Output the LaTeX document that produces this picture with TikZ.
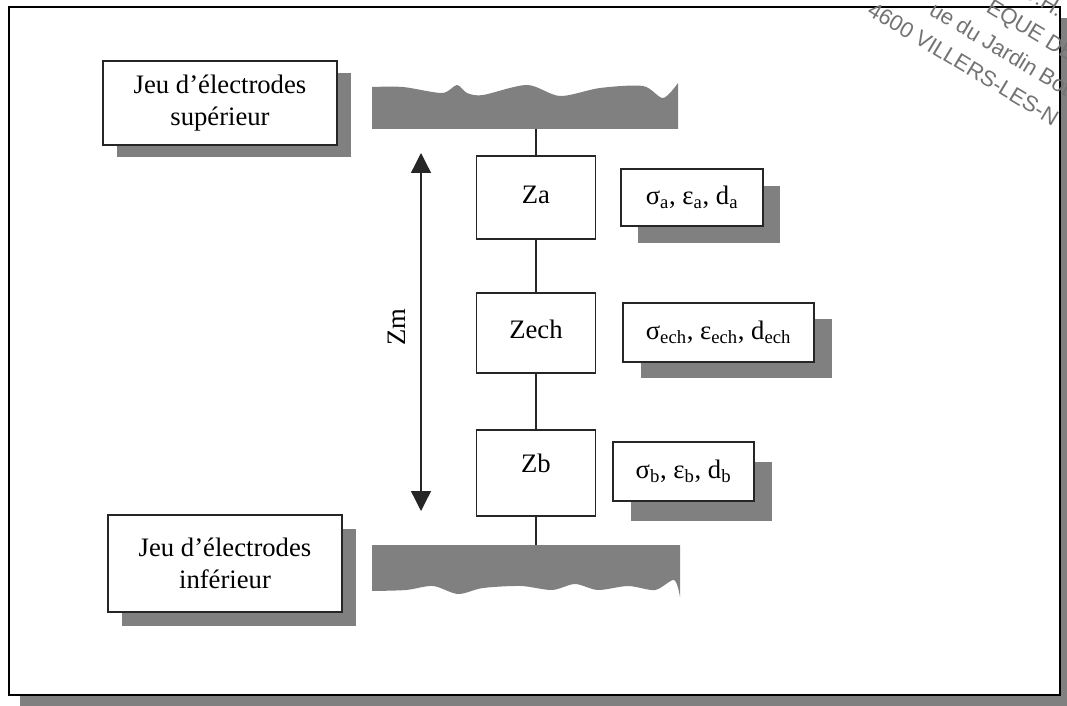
\documentclass[tikz,border=0pt]{standalone}
\usepackage{fontspec}
\setmainfont{Liberation Serif}
\newfontfamily\stampfont{Liberation Sans}
\usetikzlibrary{arrows.meta,shadows}
\begin{document}
\begin{tikzpicture}[x=0.75pt,y=-0.75pt,
  shadecol/.style={fill=black!50},
  box/.style={draw=black!85, line width=0.9pt, fill=white, align=center, inner sep=0pt,
    font=\fontsize{20}{24.5}\selectfont},
  sbox/.style 2 args={box, drop shadow={shadow xshift=#1, shadow yshift=-#2, fill=black!50, opacity=1}},
  zbox/.style={box, minimum width=89.25pt},
  link/.style={draw=black!85, line width=0.9pt},
  zmarrow/.style={draw=black!85, line width=1pt, {Triangle[width=15pt,length=15pt]}-{Triangle[width=15pt,length=15pt]}},
  stamp/.style={text=black!55, font=\stampfont\fontsize{16.5}{19}\selectfont, rotate=-31, anchor=base west, inner sep=0pt}
]
\useasboundingbox (0,0) rectangle (1067,706);
\begin{scope}
\clip (0,0) rectangle (1067,706);
% outer frame with shadow
\fill[shadecol] (20,18) rectangle (1080,720);
\draw[line width=1.6pt, fill=white] (9,7) rectangle (1060,695);

% electrode strips
\fill[shadecol] (372,129) -- plot[smooth] coordinates {(372,87) (403,87) (442,93) (457,85) (467,93) (483,95) (527,85) (560,96) (600,88) (643,86) (663,98) (678,83)} -- (678,129) -- cycle;
\fill[shadecol] (372,545) -- plot[smooth] coordinates {(372,591) (406,590) (433,586) (458,594) (483,588) (521,586) (552,590) (575,584) (598,590) (628,586) (655,590) (674,580) (680,597)} -- (680,545) -- cycle;
\coordinate (topE) at (536,129);
\coordinate (botE) at (536,545);

% electrode labels
\node[sbox={10.5pt}{9pt}, minimum width=175.5pt, minimum height=63pt] (sup) at (220,103) {Jeu d’électrodes\\supérieur};
\node[sbox={10.5pt}{10.5pt}, minimum width=175.5pt, minimum height=72.75pt] (inf) at (225,563.5) {Jeu d’électrodes\\inférieur};

% impedance boxes
\node[zbox, minimum height=62.25pt, text depth=4.5pt] (za) at (536,197.5) {Za};
\node[zbox, minimum height=60pt, text depth=6pt] (zech) at (536,333) {Zech};
\node[zbox, minimum height=64.5pt, text depth=15pt] (zb) at (536,473) {Zb};

\draw[link] (topE) -- (za.north);
\draw[link] (za.south) -- (zech.north);
\draw[link] (zech.south) -- (zb.north);
\draw[link] (zb.south) -- (botE);

% parameter boxes
\node[sbox={12.75pt}{12.75pt}, minimum width=106.5pt, minimum height=42.75pt] (pa) at (692,197.5) {σ\textsubscript{a}, ε\textsubscript{a}, d\textsubscript{a}};
\node[sbox={13.5pt}{12pt}, minimum width=143.25pt, minimum height=44.25pt] (pech) at (718.5,332.5) {σ\textsubscript{ech}, ε\textsubscript{ech}, d\textsubscript{ech}};
\node[sbox={13.5pt}{15pt}, minimum width=105.75pt, minimum height=44.25pt] (pb) at (683.5,471.5) {σ\textsubscript{b}, ε\textsubscript{b}, d\textsubscript{b}};

% Zm arrow
\coordinate (zmtop) at (421,153);
\coordinate (zmbot) at (421,511);
\draw[zmarrow] (zmtop) -- (zmbot);
\node[rotate=90, font=\fontsize{20}{24}\selectfont, inner sep=0pt] (zm) at (397,327) {Zm};

% stamp
\node[stamp] (st1) at (1020,-5) {U.H.};
\node[stamp] (st2) at (985,11) {EQUE DE};
\node[stamp] (st3) at (928,14) {ue du Jardin Bot};
\node[stamp] (st4) at (866,14) {4600 VILLERS-LES-N};
\end{scope}
\end{tikzpicture}
\end{document}
